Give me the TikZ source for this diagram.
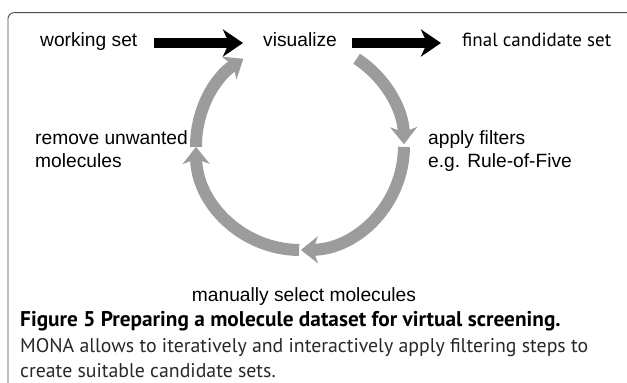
\documentclass[tikz,border=0pt]{standalone}
\usepackage{fontspec}
\setmainfont{Liberation Sans}
\newfontfamily\capfont{PT Sans}
\usetikzlibrary{arrows.meta}
\definecolor{arcgray}{RGB}{155,156,158}
\definecolor{framegray}{RGB}{75,75,75}
\definecolor{captext}{RGB}{40,40,40}
\begin{document}
\begin{tikzpicture}[x=1pt,y=1pt,
  lbl/.style={inner sep=0pt, font=\fontsize{19.2}{23}\selectfont},
  capt/.style={inner sep=0pt, font=\capfont\fontsize{19}{23}\selectfont},
  captb/.style={inner sep=0pt, font=\capfont\bfseries\fontsize{21.3}{24}\selectfont},
  captr/.style={inner sep=0pt, text=captext, font=\capfont\fontsize{19.8}{23}\selectfont},
  blk/.style={draw=black, line width=10pt, -{Stealth[length=20pt,width=27pt,inset=6pt]}},
  cyc/.style={draw=arcgray, line width=12pt, -{Stealth[length=17pt,width=27pt,inset=5pt]}}]
\useasboundingbox (0,0) rectangle (627,383);
\begin{scope}
\clip (0,0) rectangle (627,383);
\draw[framegray, line width=0.9pt, rounded corners=6pt] (8,-20) -- (8,370.3) -- (660,370.3);
\end{scope}
% labels
\node[lbl, anchor=base west] (ws) at (40,336) {working set};
\node[lbl, anchor=base west] (vis) at (263,336) {visualize};
\node[capt, anchor=base west] (fin) at (462,336) {final candidate set};
\node[lbl, anchor=base west] (rem1) at (35,238) {remove unwanted};
\node[lbl, anchor=base west] (rem2) at (35,215) {molecules};
\node[lbl, anchor=base west] (app1) at (428,238) {apply filters};
\node[lbl, anchor=base west] (app2) at (428,215) {e.g. Rule-of-Five};
\node[lbl, anchor=base] (man) at (304,81) {manually select molecules};
% caption
\node[captb, anchor=base west] (cap1) at (20,56) {Figure 5 Preparing a molecule dataset for virtual screening.};
\node[captr, anchor=base west] (cap2) at (20,30) {MONA allows to iteratively and interactively apply filtering steps to};
\node[captr, anchor=base west] (cap3) at (20,5) {create suitable candidate sets.};
% black arrows
\draw[blk] ([shift={(16pt,4pt)}]ws.base east) -- ([shift={(-20pt,4pt)}]vis.base west);
\draw[blk] ([shift={(15pt,4pt)}]vis.base east) -- ([shift={(-21pt,4pt)}]fin.base west);
% cycle
\coordinate (ctr) at (300,237);
\draw[cyc] ([shift={(57:104pt)}]ctr) arc[start angle=57, end angle=1, radius=104pt];
\draw[cyc] ([shift={(-0.5:104pt)}]ctr) arc[start angle=-0.5, end angle=-89.5, radius=104pt];
\draw[cyc] ([shift={(-90.5:104pt)}]ctr) arc[start angle=-90.5, end angle=-179.5, radius=104pt];
\draw[cyc] ([shift={(180.5:104pt)}]ctr) arc[start angle=180.5, end angle=123, radius=104pt];
\end{tikzpicture}
\end{document}
